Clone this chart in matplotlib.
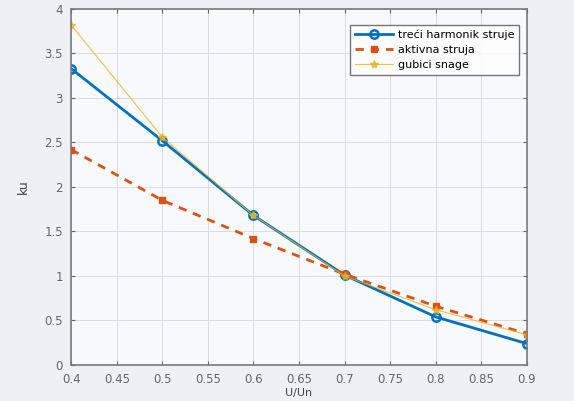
import numpy as np
import matplotlib
matplotlib.use('Agg')
import matplotlib.pyplot as plt

# values
u_ratio = [0.4, 0.5, 0.6, 0.7, 0.8, 0.9]
treci_harmonik = [3.33, 2.52, 1.68, 1.01, 0.54, 0.24]
aktivna_struja = [2.42, 1.85, 1.42, 1.02, 0.66, 0.35]
gubici_snage = [3.82, 2.56, 1.68, 1.00, 0.62, 0.34]

x_ticks = [0.4, 0.45, 0.5, 0.55, 0.6, 0.65, 0.7, 0.75, 0.8, 0.85, 0.9]
x_tick_labels = ['0.4', '0.45', '0.5', '0.55', '0.6', '0.65', '0.7', '0.75', '0.8', '0.85', '0.9']
y_ticks = [0, 0.5, 1, 1.5, 2, 2.5, 3, 3.5, 4]
y_tick_labels = ['0', '0.5', '1', '1.5', '2', '2.5', '3', '3.5', '4']

plt.rcParams['font.family'] = ['DejaVu Sans']

fig = plt.figure(figsize=(5.74, 4.01), dpi=100, facecolor='#eef0f6')
ax = fig.add_axes([0.124, 0.0898, 0.794, 0.8878])
ax.set_facecolor('#f8f9fc')

ax.plot(u_ratio, treci_harmonik, color='#0072BD', linewidth=2, marker='o',
        markersize=6, markerfacecolor='none', markeredgewidth=1.8,
        label='treći harmonik struje')
ax.plot(u_ratio, aktivna_struja, color='#D95319', linewidth=2, linestyle='--',
        dashes=(3, 2.5), marker='s', markersize=4, label='aktivna struja')
ax.plot(u_ratio, gubici_snage, color='#EDB120', linewidth=0.8, marker='*',
        markersize=6, alpha=0.8, label='gubici snage')

ax.set_xlim(0.4, 0.9)
ax.set_ylim(0, 4)
ax.set_xticks(x_ticks)
ax.set_xticklabels(x_tick_labels)
ax.set_yticks(y_ticks)
ax.set_yticklabels(y_tick_labels)
ax.tick_params(direction='in', length=3, labelsize=8.5, colors='#666666',
               top=True, right=True, pad=6)
ax.grid(True, color='#dcdde2', linewidth=0.7)
for s in ax.spines.values():
    s.set_color('#7a7a7a')
    s.set_linewidth(1.2)

ax.set_ylabel('ku', fontsize=9, color='#444444', labelpad=10)
ax.set_xlabel('U/Un', fontsize=8, color='#444444', labelpad=1)

leg = ax.legend(loc='upper right', fontsize=8, frameon=True, fancybox=False,
                borderpad=0.45, handlelength=3.4, labelspacing=0.45,
                handletextpad=0.4, bbox_to_anchor=(0.995, 0.972))
leg.get_frame().set_edgecolor('#555555')
leg.get_frame().set_facecolor('white')
leg.get_frame().set_linewidth(1.0)

fig.savefig('out.png', dpi=100, facecolor=fig.get_facecolor())
